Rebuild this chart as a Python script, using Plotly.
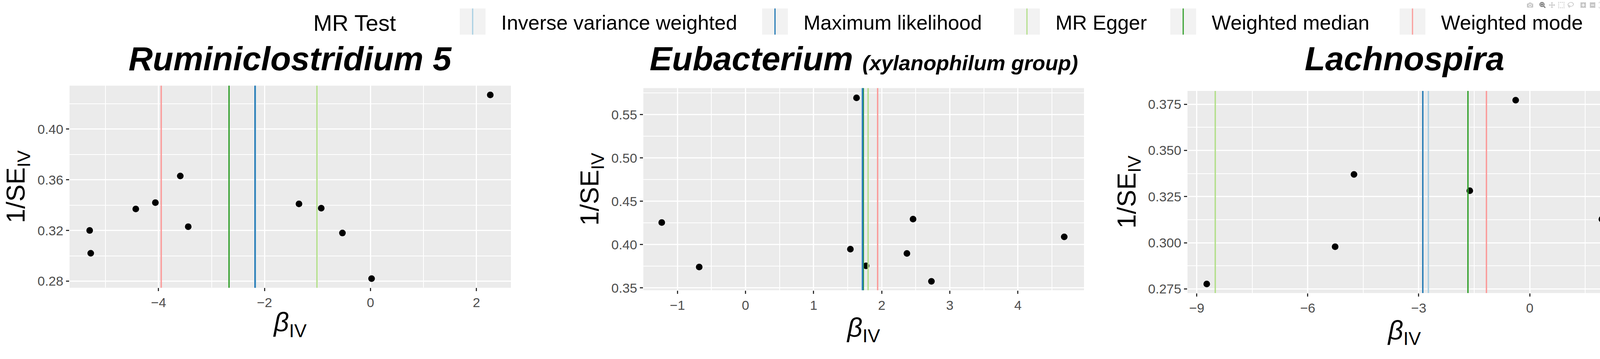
import plotly.graph_objects as go

# ---- data ----
titles = ["<b><i>Ruminiclostridium 5</i></b>",
          "<b><i>Eubacterium <span style='font-size:54px'>(xylanophilum group)</span></i></b>",
          "<b><i>Lachnospira</i></b>"]
p1_x = [-5.30, -5.28, -4.43, -4.06, -3.59, -3.44, -1.35, -0.93, -0.53, 0.02, 2.26]
p1_y = [0.320, 0.302, 0.337, 0.342, 0.363, 0.323, 0.341, 0.3376, 0.318, 0.282, 0.427]
p2_x = [-1.23, -0.68, 1.54, 1.63, 1.77, 2.37, 2.46, 2.73, 4.68]
p2_y = [0.4255, 0.3742, 0.3948, 0.5693, 0.3755, 0.3898, 0.4294, 0.3576, 0.4089]
p3_x = [-8.73, -5.26, -4.75, -1.62, -0.38, 1.95]
p3_y = [0.2777, 0.2979, 0.337, 0.3282, 0.3772, 0.3128]
methods = ["Inverse variance weighted", "Maximum likelihood", "MR Egger", "Weighted median", "Weighted mode"]
colors = ["#A6CEE3", "#1F78B4", "#B2DF8A", "#33A02C", "#FB9A99"]
p1_est = [-2.17, -2.18, -1.01, -2.67, -3.95]
p2_est = [1.71, 1.72, 1.80, 1.73, 1.94]
p3_est = [-2.74, -2.89, -8.50, -1.67, -1.17]

W, H = 4171, 920
panels = [
    dict(x=p1_x, y=p1_y, est=p1_est, xd=[178/W, 1308/W], yd=[0.187, 0.758],
         xr=[-5.68, 2.65], yr=[0.2748, 0.4343], xdt=2, ydt=0.04, yfmt=".2f"),
    dict(x=p2_x, y=p2_y, est=p2_est, xd=[1647/W, 2775/W], yd=[0.180, 0.751],
         xr=[-1.50, 4.97], yr=[0.3474, 0.5805], xdt=1, ydt=0.05, yfmt=".2f"),
    dict(x=p3_x, y=p3_y, est=p3_est, xd=[3040/W, 4151/W], yd=[0.172, 0.743],
         xr=[-9.25, 2.48], yr=[0.2728, 0.3822], xdt=3, ydt=0.025, yfmt=".3f"),
]

fig = go.Figure()
font = "Liberation Sans, Arial, sans-serif"
tickfont = dict(family=font, size=34, color="#4D4D4D")
shapes, annos = [], []
layout = {}
for i, p in enumerate(panels):
    n = "" if i == 0 else str(i + 1)
    xa, ya = "x" + n, "y" + n
    order = [4, 3, 2, 0, 1]
    for k in order:
        shapes.append(dict(type="line", xref=xa, yref=ya + " domain", x0=p["est"][k], x1=p["est"][k],
                           y0=0, y1=1, line=dict(color=colors[k], width=3.5), layer="above"))
    fig.add_trace(go.Scatter(x=p["x"], y=p["y"], mode="markers", xaxis=xa, yaxis=ya,
                             marker=dict(color="black", size=17), showlegend=False, cliponaxis=False))
    layout["xaxis" + n] = dict(domain=p["xd"], anchor=ya, range=p["xr"], dtick=p["xdt"], tick0=0,
                               showgrid=True, gridcolor="white", gridwidth=3, zeroline=False,
                               minor=dict(dtick=p["xdt"] / 2, showgrid=True, gridcolor="white", gridwidth=1.5),
                               ticks="outside", ticklen=8, tickwidth=3, tickcolor="#333333", tickfont=tickfont,
                               title=dict(text="<i>β</i><sub>IV</sub>", font=dict(family=font, size=68, color="black"), standoff=8))
    layout["yaxis" + n] = dict(domain=p["yd"], anchor=xa, range=p["yr"], dtick=p["ydt"], tick0=0,
                               tickformat=p["yfmt"],
                               showgrid=True, gridcolor="white", gridwidth=3, zeroline=False,
                               minor=dict(dtick=p["ydt"] / 2, showgrid=True, gridcolor="white", gridwidth=1.5),
                               ticks="outside", ticklen=8, tickwidth=3, tickcolor="#333333", tickfont=tickfont,
                               title=dict(text="1/SE<sub>IV</sub>", font=dict(family=font, size=66, color="black"), standoff=10))
    shapes.insert(0, dict(type="rect", xref="paper", yref="paper", x0=p["xd"][0], x1=p["xd"][1],
                          y0=p["yd"][0], y1=p["yd"][1], fillcolor="#EBEBEB", line=dict(width=0), layer="below"))
    annos.append(dict(text=titles[i], xref="paper", yref="paper", x=sum(p["xd"]) / 2, y=0.835,
                      showarrow=False, xanchor="center", yanchor="middle",
                      font=dict(family=font, size=86, color="black")))

# ---- manual legend ----
annos.append(dict(text="MR Test", xref="paper", yref="paper", x=800 / W, y=1 - 59 / H, xanchor="left",
                  yanchor="middle", showarrow=False, font=dict(family=font, size=58, color="black")))
key_x = [1177, 1951, 2596, 2996, 3583]
for k in range(5):
    x0 = key_x[k]
    shapes.append(dict(type="rect", xref="paper", yref="paper", x0=x0 / W, x1=(x0 + 66) / W,
                       y0=1 - 90 / H, y1=1 - 22 / H, fillcolor="#F2F2F2", line=dict(width=0)))
    shapes.append(dict(type="line", xref="paper", yref="paper", x0=(x0 + 33) / W, x1=(x0 + 33) / W,
                       y0=1 - 90 / H, y1=1 - 22 / H, line=dict(color=colors[k], width=3)))
    annos.append(dict(text=methods[k], xref="paper", yref="paper", x=(x0 + 104) / W, y=1 - 59 / H,
                      xanchor="left", yanchor="middle", showarrow=False,
                      font=dict(family=font, size=52, color="black")))

fig.update_layout(width=W, height=H, margin=dict(l=0, r=0, t=0, b=0), plot_bgcolor="rgba(0,0,0,0)",
                  paper_bgcolor="white", shapes=shapes, annotations=annos, showlegend=False, **layout)
fig.write_html("out.html",
               post_script="document.body.style.margin='0';document.body.style.overflow='hidden';")
